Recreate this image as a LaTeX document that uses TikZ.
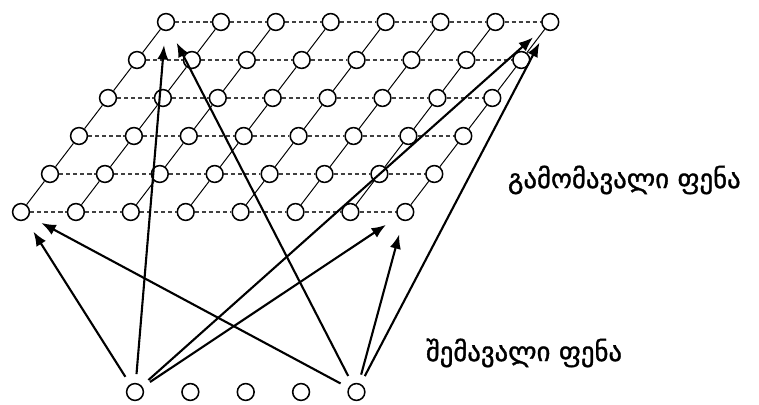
\documentclass[tikz,border=0pt]{standalone}
\usepackage{fontspec}
\newfontfamily\geofont[FakeBold=1.2]{DejaVu Sans}
\usetikzlibrary{arrows.meta, positioning}

\begin{document}
\begin{tikzpicture}[
  x=0.025cm, y=0.025cm,
  node distance=0.925cm,
  unit/.style={draw, circle, line width=1.1pt, minimum size=0.42cm, inner sep=0pt, fill=white},
  hline/.style={densely dashed, gray!50!black, line width=1pt},
  vline/.style={line width=0.7pt},
  arr/.style={-{Latex[length=3.6mm, width=2.8mm]}, line width=1.5pt, shorten <=0.22cm, shorten >=0.35cm},
  lbl/.style={font=\geofont\fontsize{19}{21}\selectfont, anchor=west}
]
\useasboundingbox (0,0) rectangle (759,405);
% output layer
\foreach \r in {0,...,5}
  \foreach \c in {0,...,7}
    \node[unit] (o\c\r) at ({21+54.9*\c+29*\r}, {193+38*\r}) {};
\foreach \r in {0,...,5}
  \foreach \c [count=\n] in {0,...,6}
    \draw[hline] (o\c\r) -- (o\n\r);
\foreach \c in {0,...,7}
  \foreach \r [count=\n] in {0,...,4}
    \draw[vline] (o\c\r) -- (o\c\n);
% input layer
\node[unit] (i1) at (135,13) {};
\node[unit, right=of i1] (i2) {};
\node[unit, right=of i2] (i3) {};
\node[unit, right=of i3] (i4) {};
\node[unit, right=of i4] (i5) {};

\foreach \s in {i1,i5}
  \foreach \t in {o00,o05,o70,o75}
    \draw[arr] (\s) -- (\t);

\node[lbl] (outlbl) at (503,225) {გამომავალი ფენა};
\node[lbl] (inlbl) at (421,52) {შემავალი ფენა};
\end{tikzpicture}
\end{document}
